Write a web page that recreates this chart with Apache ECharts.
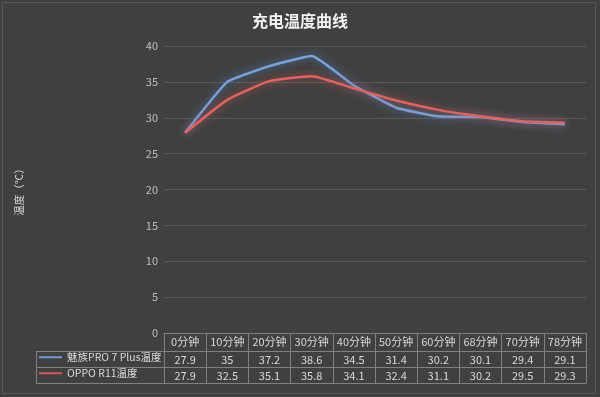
<!DOCTYPE html>
<html><head><meta charset="utf-8">
<script src="https://cdn.jsdelivr.net/npm/echarts@6/dist/echarts.min.js"></script>
<style>html,body{margin:0;padding:0;background:#404040;}#c{width:600px;height:397px;}</style>
</head><body><div id="c"></div>
<script>
const categories = ['0分钟','10分钟','20分钟','30分钟','40分钟','50分钟','60分钟','68分钟','70分钟','78分钟'];
const meizu = [27.9, 35, 37.2, 38.6, 34.5, 31.4, 30.2, 30.1, 29.4, 29.1];
const oppo = [27.9, 32.5, 35.1, 35.8, 34.1, 32.4, 31.1, 30.2, 29.5, 29.3];
const seriesNames = ['魅族PRO 7 Plus温度', 'OPPO R11温度'];
const yTicks = {min: 0, max: 40, interval: 5};

const FONT = '"Noto Sans CJK SC", "Noto Sans", sans-serif';
const tableLine = '#808080';
const textCol = '#d9d9d9';
const chart = echarts.init(document.getElementById('c'));

function tableAxis(data, offset, showLabel) {
  return {
    type: 'category', data: data, position: 'bottom', offset: offset,
    boundaryGap: true,
    axisLine: {show: true, lineStyle: {color: tableLine, width: 1}},
    axisTick: {show: false},
    axisLabel: {show: showLabel, interval: 0, color: textCol, fontSize: 11, fontFamily: FONT, margin: 3},
    splitLine: {show: false}
  };
}

const xAxes = [
  {
    type: 'category', data: categories, position: 'bottom', boundaryGap: true,
    axisLine: {show: true, lineStyle: {color: tableLine, width: 1}},
    axisTick: {show: true, interval: 0, length: 50, lineStyle: {color: tableLine, width: 1}},
    axisLabel: {interval: 0, color: textCol, fontSize: 11, fontFamily: FONT, margin: 3},
    splitLine: {show: false}
  },
  tableAxis(meizu.map(String), 18, true),
  tableAxis(oppo.map(String), 34, true),
  tableAxis(categories, 50, false)
];

const legendText = {color: textCol, fontSize: 10.5, fontFamily: FONT};
const option = {
  backgroundColor: '#404040',
  animation: false,
  title: {
    text: '充电温度曲线', left: 'center', top: 8,
    textStyle: {color: '#f2f2f2', fontSize: 16, fontWeight: 'bold', fontFamily: FONT}
  },
  grid: {left: 164, right: 14, top: 46, bottom: 64, containLabel: false},
  legend: [
    {data: [seriesNames[0]], left: 39, top: 352, orient: 'vertical', selectedMode: false,
     icon: 'rect', itemWidth: 23, itemHeight: 2, itemGap: 0, padding: 0, textStyle: legendText},
    {data: [seriesNames[1]], left: 39, top: 368, orient: 'vertical', selectedMode: false,
     icon: 'rect', itemWidth: 23, itemHeight: 2, itemGap: 0, padding: 0, textStyle: legendText}
  ],
  xAxis: xAxes,
  yAxis: {
    type: 'value', min: yTicks.min, max: yTicks.max, interval: yTicks.interval,
    name: '温度（℃）', nameLocation: 'middle', nameRotate: 90, nameGap: 140,
    nameTextStyle: {color: textCol, fontSize: 10.5, fontFamily: FONT},
    axisLine: {show: false}, axisTick: {show: false},
    axisLabel: {color: '#bfbfbf', fontSize: 11, fontFamily: FONT, margin: 6},
    splitLine: {lineStyle: {color: '#5a5a5a', width: 1}}
  },
  series: [
    {name: seriesNames[0], type: 'line', data: meizu, xAxisIndex: 0, smooth: 0.12,
     symbol: 'none', color: '#6f9ad8',
     lineStyle: {width: 2.5, color: '#7aa3dc', shadowColor: 'rgba(79,129,189,1)', shadowBlur: 8}},
    {name: seriesNames[1], type: 'line', data: oppo, xAxisIndex: 0, smooth: 0.15,
     symbol: 'none', color: '#d65a58',
     lineStyle: {width: 2.5, color: '#dc6461', shadowColor: 'rgba(192,80,77,1)', shadowBlur: 8}}
  ],
  graphic: [
    {type: 'line', shape: {x1: 36, y1: 351.5, x2: 164, y2: 351.5}, style: {stroke: tableLine, lineWidth: 1}},
    {type: 'line', shape: {x1: 36, y1: 367.5, x2: 164, y2: 367.5}, style: {stroke: tableLine, lineWidth: 1}},
    {type: 'line', shape: {x1: 36, y1: 383.5, x2: 164, y2: 383.5}, style: {stroke: tableLine, lineWidth: 1}},
    {type: 'line', shape: {x1: 36.5, y1: 351, x2: 36.5, y2: 384}, style: {stroke: tableLine, lineWidth: 1}},
    {type: 'rect', shape: {x: 2.5, y: 2.5, width: 593, height: 391}, style: {fill: 'none', stroke: '#585858', lineWidth: 1}}
  ]
};
chart.setOption(option);
</script></body></html>
